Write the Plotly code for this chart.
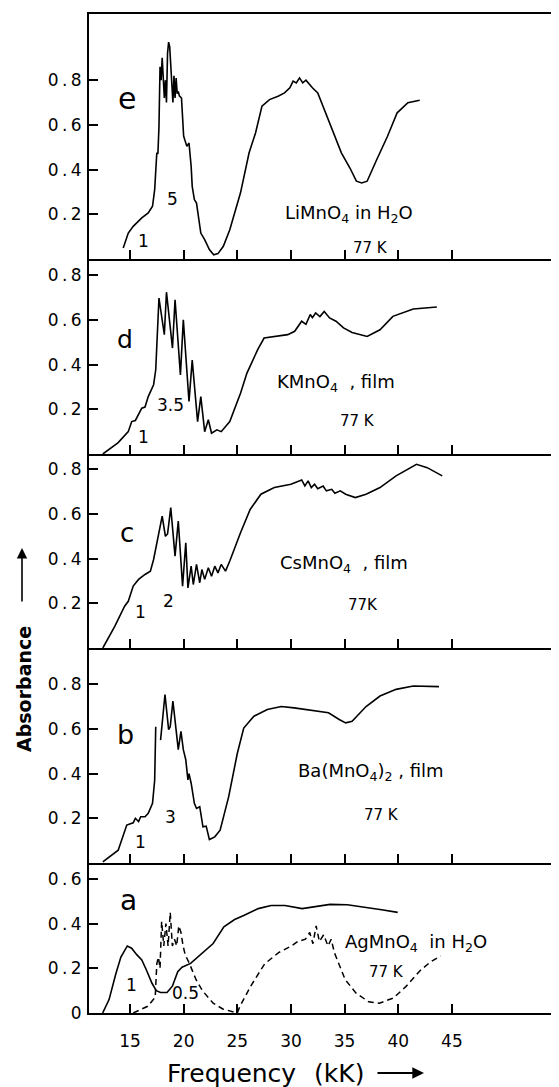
import plotly.graph_objects as go

# ---------------- data (frequency in kK, absorbance) ----------------
k_e = [14.37,14.84,15.3,16.1,16.7,17.1,17.3,17.5,17.6,17.7,17.8,17.9,18.0,18.1,18.2,18.3,18.4,18.5,18.6,18.7,18.8,18.9,19.0,19.1,19.2,19.3,19.4,19.5,19.6,19.8,20.0,20.1,20.3,20.5,20.7,20.8,21.0,21.2,21.4,21.6,21.96,22.4,22.8,23.2,23.7,24.3,25.3,26.1,26.7,27.3,28.0,28.8,29.4,29.9,30.2,30.5,30.8,31.1,31.4,32.0,32.5,33.1,33.9,34.7,35.5,36.1,36.6,37.1,38.0,39.0,39.9,40.9,42.0]
A_e = [0.049,0.116,0.146,0.184,0.206,0.236,0.31,0.475,0.47,0.59,0.86,0.80,0.90,0.78,0.72,0.80,0.70,0.92,0.97,0.95,0.85,0.75,0.70,0.82,0.72,0.81,0.74,0.75,0.73,0.72,0.55,0.534,0.504,0.519,0.415,0.325,0.266,0.25,0.191,0.116,0.087,0.042,0.019,0.024,0.057,0.131,0.296,0.475,0.564,0.684,0.713,0.728,0.743,0.766,0.796,0.788,0.81,0.788,0.80,0.766,0.743,0.669,0.572,0.475,0.407,0.348,0.34,0.348,0.445,0.549,0.654,0.699,0.71]

k_d = [12.47,13.9,14.84,15.16,15.5,15.8,16.1,16.4,16.7,17.2,17.4,17.7,18.2,18.4,18.96,19.2,19.7,19.97,20.5,20.8,21.3,21.6,21.96,22.3,22.6,23.1,23.5,24.3,25.3,25.9,26.9,27.5,28.8,29.7,30.35,31.0,31.4,31.8,32.0,32.3,32.7,33.1,33.6,34.2,34.9,35.7,37.1,38.3,39.5,41.4,43.6]
A_d = [0.0,0.051,0.10,0.145,0.15,0.175,0.205,0.21,0.257,0.31,0.377,0.698,0.534,0.724,0.474,0.69,0.354,0.60,0.235,0.42,0.145,0.257,0.10,0.153,0.093,0.108,0.10,0.145,0.272,0.362,0.467,0.519,0.529,0.534,0.549,0.594,0.58,0.624,0.61,0.631,0.615,0.638,0.609,0.594,0.564,0.544,0.526,0.556,0.616,0.649,0.658]

k_c = [12.47,13.58,14.5,14.84,15.3,15.8,16.4,16.9,17.2,17.6,18.0,18.3,18.5,18.8,19.0,19.2,19.5,19.75,19.9,20.2,20.4,20.7,20.9,21.2,21.5,21.7,21.96,22.3,22.6,22.9,23.2,23.5,23.9,24.3,25.3,26.2,27.2,28.45,30.0,31.0,31.3,31.6,31.9,32.2,32.5,33.0,33.3,33.8,34.1,34.6,35.1,36.0,37.0,38.3,39.8,41.7,42.7,44.1]
A_c = [0.0,0.097,0.187,0.209,0.277,0.307,0.329,0.344,0.396,0.486,0.59,0.50,0.51,0.628,0.508,0.411,0.568,0.411,0.277,0.471,0.269,0.366,0.284,0.374,0.292,0.351,0.307,0.359,0.321,0.366,0.336,0.374,0.344,0.389,0.516,0.62,0.688,0.718,0.733,0.752,0.725,0.748,0.718,0.733,0.713,0.725,0.703,0.71,0.692,0.703,0.688,0.673,0.688,0.718,0.77,0.822,0.807,0.77]

k_b = [12.47,13.9,14.7,15.3,15.5,15.8,16.0,16.4,16.7,17.1,17.3,17.4,17.6,17.85,18.26,18.6,18.75,19.0,19.3,19.5,19.75,19.97,20.2,20.4,20.5,20.7,21.0,21.2,21.5,21.8,22.1,22.4,22.9,23.4,24.2,25.0,25.6,26.55,27.8,29.1,30.3,31.9,33.5,34.5,35.1,35.7,37.0,38.3,39.8,41.4,43.8]
A_b = [0.005,0.057,0.17,0.18,0.20,0.185,0.207,0.207,0.222,0.267,0.37,0.61,None,0.55,0.754,0.597,0.61,0.724,0.589,0.507,0.589,0.507,0.462,0.372,0.40,0.357,0.267,0.244,0.252,0.162,0.165,0.105,0.117,0.147,0.297,0.49,0.604,0.657,0.687,0.70,0.694,0.684,0.672,0.642,0.627,0.634,0.70,0.747,0.777,0.792,0.789]

k_a = [12.45,13.05,13.65,14.15,14.75,15.15,15.65,16.1,16.55,17.05,17.45,17.85,18.45,18.95,19.45,19.85,20.65,21.75,22.75,23.75,24.75,25.65,26.95,28.15,29.45,31.05,32.05,33.65,35.25,36.85,38.45,39.95]
A_a = [0.0,0.06,0.17,0.25,0.30,0.29,0.26,0.237,0.19,0.133,0.10,0.092,0.092,0.12,0.185,0.205,0.222,0.267,0.311,0.385,0.418,0.437,0.467,0.481,0.481,0.467,0.474,0.486,0.484,0.474,0.462,0.450]

k_a2 = [15.3,16.65,17.35,17.5,17.65,17.8,17.95,18.15,18.35,18.55,18.75,18.95,19.15,19.35,19.55,19.75,19.95,20.15,20.55,21.15,21.75,22.75,23.65,24.65,25.0,25.25,26.25,27.55,28.85,30.05,30.65,31.35,31.75,32.05,32.35,32.65,33.05,33.45,33.75,34.05,35.05,36.05,37.25,38.25,39.55,40.75,42.05,43.05,43.95]
A_a2 = [0.0,0.03,0.07,0.22,0.25,0.20,0.41,0.30,0.40,0.30,0.45,0.30,0.33,0.30,0.39,0.36,0.30,0.26,0.22,0.15,0.10,0.044,0.018,0.003,0.0,0.03,0.12,0.22,0.27,0.30,0.32,0.33,0.36,0.31,0.39,0.32,0.35,0.30,0.33,0.27,0.15,0.09,0.05,0.044,0.067,0.12,0.19,0.23,0.255]

x_ticks = [15, 20, 25, 30, 35, 40, 45]
x_ticktext = ["15", "20", "25", "30", "35", "40", "45"]
y_ticks_top = [0.2, 0.4, 0.6, 0.8]
y_ticks_a = [0, 0.2, 0.4, 0.6]

panel_letters = ["e", "d", "c", "b", "a"]
panel_ymax = [1.096, 0.8725, 0.868, 0.962, 0.671]
compound_labels = ["LiMnO<sub>4</sub> in H<sub>2</sub>O", "KMnO<sub>4</sub>  , film",
                   "CsMnO<sub>4</sub>  , film", "Ba(MnO<sub>4</sub>)<sub>2</sub> , film",
                   "AgMnO<sub>4</sub>  in H<sub>2</sub>O"]

# ---------------- geometry ----------------
# the page body adds an 8 px offset; positions below are page pixels
OFF = 8
W, H = 559, 1087
AX_LEFT = 89                     # page x of the left axis line
ML = AX_LEFT - OFF
MT = 14 - OFF
MB = H - (1013 - OFF)
edges = [14, 259, 454, 648, 863, 1013]   # panel borders, page px from top
plot_h = 1013 - 14
plot_w = W - ML
XR = [11.18, 11.18 + plot_w / 10.73]

def yfrac(py):
    return (1013 - py) / plot_h

def xfrac(px):
    return (px - AX_LEFT) / plot_w

fig = go.Figure()
FONT = "DejaVu Sans"

def tt(v):
    return "0" if v == 0 else "0\u2009.\u2009" + str(int(round(v * 10)))

series = [(k_e, A_e), (k_d, A_d), (k_c, A_c), (k_b, A_b), (k_a, A_a)]
layout_axes = {}
for i in range(5):
    n = i + 1
    xs, ys = series[i]
    fig.add_trace(go.Scatter(x=xs, y=ys, mode="lines", line=dict(color="black", width=1.6),
                             xaxis=f"x{n}", yaxis=f"y{n}", showlegend=False, connectgaps=False))
    dom = [yfrac(edges[i + 1]), yfrac(edges[i])]
    yt = y_ticks_a if i == 4 else y_ticks_top
    layout_axes[f"xaxis{n}"] = dict(
        domain=[0, 1], anchor=f"y{n}", range=XR, showline=True, linewidth=2, linecolor="black",
        mirror=(i == 0), ticks="inside", ticklen=9, tickwidth=1.5, tickcolor="black",
        tickvals=x_ticks, ticktext=x_ticktext, showticklabels=(i == 4), showgrid=False,
        zeroline=False, automargin=False,
        tickfont=dict(family=FONT, size=17, color="black"), ticklabelstandoff=12)
    layout_axes[f"yaxis{n}"] = dict(
        domain=dom, anchor=f"x{n}", range=[0, panel_ymax[i]], showline=True, linewidth=2,
        linecolor="black", ticks="inside", ticklen=9, tickwidth=1.5, tickcolor="black",
        tickvals=yt, ticktext=[tt(v) for v in yt], showgrid=False, zeroline=False,
        automargin=False, tickfont=dict(family=FONT, size=17, color="black"),
        ticklabelstandoff=2)

fig.add_trace(go.Scatter(x=k_a2, y=A_a2, mode="lines",
                         line=dict(color="black", width=1.5, dash="6px,4px"),
                         xaxis="x5", yaxis="y5", showlegend=False))

fig.update_layout(**layout_axes)

ann = []
def add(text, x, y, n, size, **kw):
    ann.append(dict(text=text, x=x, y=y, xref=f"x{n}", yref=f"y{n}", showarrow=False,
                    xanchor="center", yanchor="middle",
                    font=dict(family=FONT, size=size, color="black"), **kw))

# panel letters
add("e", 14.75, 0.718, 1, 30)
add("d", 14.5, 0.511, 2, 25)
add("c", 14.68, 0.516, 3, 26)
add("b", 14.6, 0.577, 4, 27)
add("a", 14.9, 0.504, 5, 28)
# compound labels
add(compound_labels[0], 35.4, 0.20, 1, 18)
add(compound_labels[1], 34.2, 0.317, 2, 18)
add(compound_labels[2], 34.9, 0.374, 3, 18)
add(compound_labels[3], 37.5, 0.409, 4, 18)
add(compound_labels[4], 41.7, 0.311, 5, 18)
# temperatures
add("77 K", 37.4, 0.048, 1, 15)
add("77 K", 36.2, 0.148, 2, 15)
add("77K", 36.7, 0.191, 3, 15)
add("77 K", 38.4, 0.217, 4, 15)
add("77 K", 38.9, 0.185, 5, 15)
# relative scale factors
add("1", 16.27, 0.079, 1, 17); add("5", 18.96, 0.269, 1, 17)
add("1", 16.27, 0.078, 2, 17); add("3.5", 18.8, 0.22, 2, 17)
add("1", 15.95, 0.16, 3, 17);  add("2", 18.6, 0.209, 3, 17)
add("1", 15.95, 0.094, 4, 17); add("3", 18.8, 0.207, 4, 17)
add("1", 15.16, 0.126, 5, 17); add("0.5", 20.2, 0.089, 5, 17)

# axis titles with arrows
ann.append(dict(text="<b>Absorbance</b>", xref="paper", yref="paper",
                x=xfrac(24), y=yfrac(689), textangle=-90, showarrow=False,
                xanchor="center", yanchor="middle",
                font=dict(family=FONT, size=19, color="black")))
ann.append(dict(text="", xref="paper", yref="paper", x=xfrac(22), y=yfrac(548),
                showarrow=True, ax=0, ay=55, arrowhead=2, arrowsize=1.3, arrowwidth=1.6,
                arrowcolor="black"))
ann.append(dict(text="Frequency\u2009\u2009 (kK)", xref="x5", yref="paper", x=27.6, y=yfrac(1073),
                xanchor="center", yanchor="middle", showarrow=False,
                font=dict(family=FONT, size=25, color="black")))
ann.append(dict(text="", xref="x5", yref="paper", x=42.4, y=yfrac(1073),
                showarrow=True, ax=-48, ay=0, arrowhead=2, arrowsize=1.3, arrowwidth=1.8,
                arrowcolor="black"))

fig.update_layout(annotations=ann, width=W, height=H,
                  margin=dict(l=ML, r=0, t=MT, b=MB, autoexpand=False),
                  paper_bgcolor="white", plot_bgcolor="white")

fig.write_html("out.html")
